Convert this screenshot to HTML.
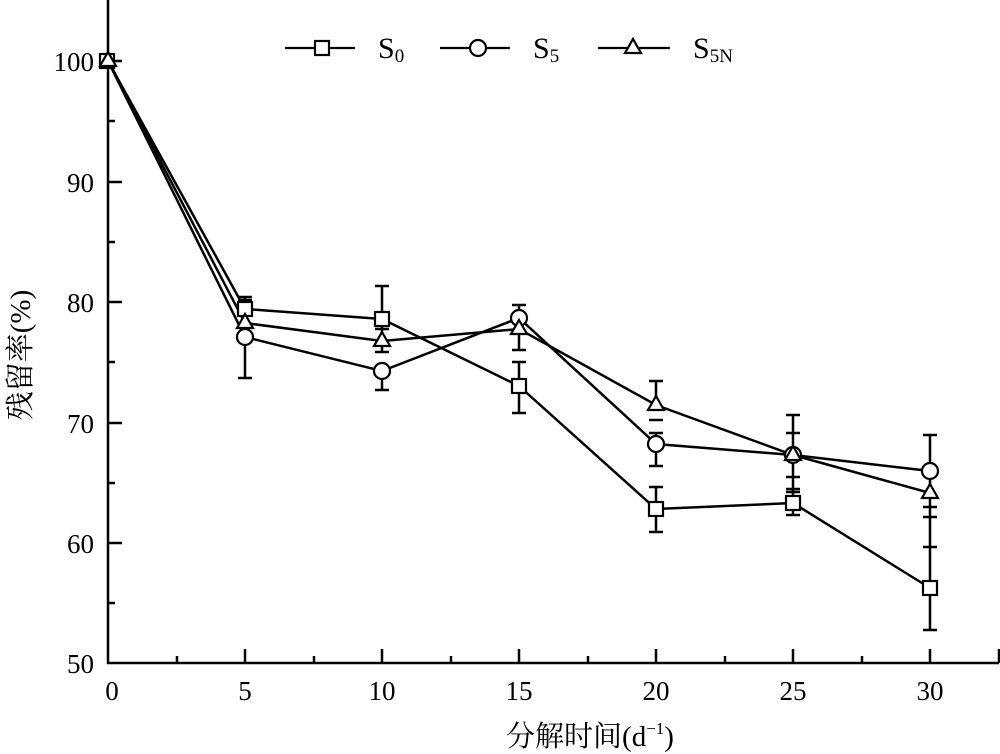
<!DOCTYPE html>
<html><head><meta charset="utf-8"><style>body{margin:0;background:#fff}svg{display:block}</style></head><body>
<svg width="1000" height="754" viewBox="0 0 1000 754" xmlns="http://www.w3.org/2000/svg" font-family="Liberation Serif, 'Noto Serif CJK SC', serif">
<g stroke="#000" stroke-width="2.5" fill="none">
<path d="M108 0V663H999"/>
<path d="M108 61h14M108 182h14M108 302h14M108 423h14M108 543h14M108 121h7M108 242h7M108 362h7M108 483h7M108 603h7"/>
<path d="M245 663v-14M382 663v-14M519 663v-14M656 663v-14M793 663v-14M930 663v-14M999 663v-14M177 663v-7M314 663v-7M451 663v-7M588 663v-7M725 663v-7M862 663v-7"/>
<path d="M245 297v12M238 297h14M238 300h14"/>
<path d="M382 286v66M375 286h14M375 329h14M375 352h14"/>
<path d="M519 362v51M512 362h14M512 413h14"/>
<path d="M656 487v45M649 487h14M649 532h14"/>
<path d="M793 415v100M786 415h14M786 489h14M786 515h14M786 433h14M786 477h14M786 492h14"/>
<path d="M930 435v195M923 435h14M923 547h14M923 630h14M923 507h14M923 517h14"/>
<path d="M245 337v41M238 378h14M382 371v19M375 390h14M519 305v45M512 305h14M512 350h14M656 433v33M649 433h14M649 466h14M656 381v24M649 381h14M649 420h14"/>
<polyline points="108,61 245,309 382,319 519,386 656,509 793,503 930,588"/>
<polyline points="108,61 245,337 382,371 519,318 656,444 793,455 930,471"/>
<polyline points="108,61 245,323 382,341 519,329 656,405 793,455 930,493"/>
</g>
<g stroke="#000" stroke-width="2.2" fill="#fff">
<rect x="100" y="54" width="14" height="14"/><rect x="238" y="302" width="14" height="14"/><rect x="375" y="312" width="14" height="14"/><rect x="512" y="379" width="14" height="14"/><rect x="649" y="502" width="14" height="14"/><rect x="786" y="496" width="14" height="14"/><rect x="923" y="581" width="14" height="14"/>
<circle cx="245" cy="337" r="8"/><circle cx="382" cy="371" r="8"/><circle cx="519" cy="318" r="8"/><circle cx="656" cy="444" r="8"/><circle cx="793" cy="455" r="8"/><circle cx="930" cy="471" r="8"/>
<path d="M245 314l8 14h-16zM382 332l8 14h-16zM519 320l8 14h-16zM656 396l8 14h-16zM793 446l8 14h-16zM930 484l8 14h-16zM108 52l8 14h-16z"/>
<path d="M285 48h70M440 48h70M598 48h72" />
<rect x="315" y="41" width="14" height="14"/><circle cx="478" cy="48" r="8"/><path d="M633 39l8 14h-16z"/>
</g>
<g font-size="27" fill="#000" text-anchor="end">
<text x="94" y="71">100</text><text x="94" y="192">90</text><text x="94" y="312">80</text><text x="94" y="433">70</text><text x="94" y="553">60</text><text x="94" y="673">50</text>
</g>
<g font-size="27" fill="#000" text-anchor="middle">
<text x="112" y="700">0</text><text x="245" y="700">5</text><text x="382" y="700">10</text><text x="519" y="700">15</text><text x="656" y="700">20</text><text x="793" y="700">25</text><text x="930" y="700">30</text>
<text x="590" y="746" font-size="29">分解时间(d<tspan font-size="17" dy="-12">−1</tspan><tspan dy="12">)</tspan></text>
</g>
<g font-size="30" fill="#000">
<text x="378" y="58">S<tspan font-size="19" dy="4">0</tspan></text>
<text x="533" y="58">S<tspan font-size="19" dy="4">5</tspan></text>
<text x="693" y="58">S<tspan font-size="19" dy="4">5N</tspan></text>
</g>
<text transform="translate(30,355) rotate(-90)" font-size="29" text-anchor="middle" fill="#000">残留率(%)</text>
</svg>
</body></html>
